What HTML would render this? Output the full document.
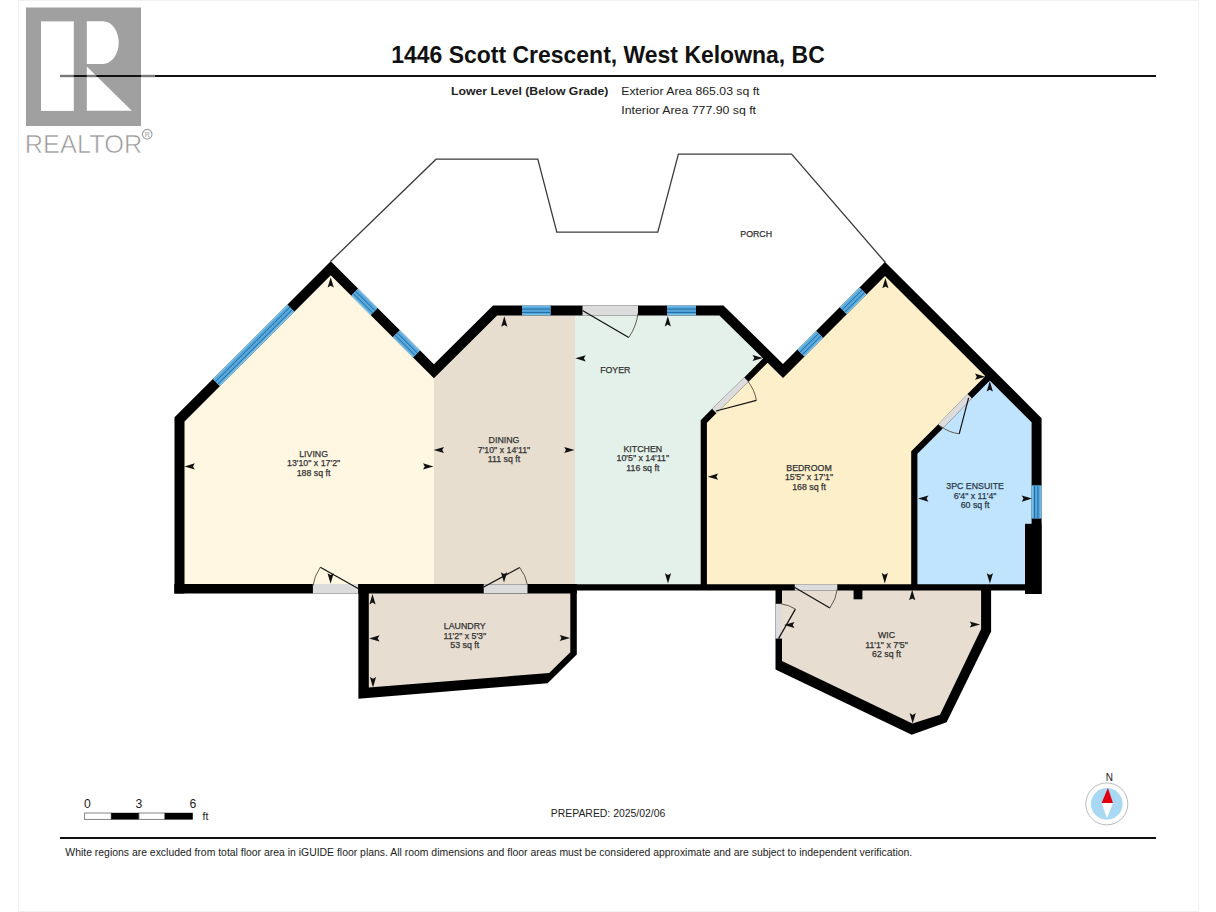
<!DOCTYPE html>
<html><head><meta charset="utf-8">
<style>
html,body{margin:0;padding:0;background:#fff;}
body{width:1216px;height:912px;overflow:hidden;position:relative;font-family:"Liberation Sans",sans-serif;}
svg text{font-family:"Liberation Sans",sans-serif;}
</style></head><body>
<svg width="1216" height="912" viewBox="0 0 1216 912" style="position:absolute;left:0;top:0">
<!-- page frame -->
<rect x="18.5" y="0.5" width="1180" height="911" fill="none" stroke="#f2f2f2" stroke-width="1.2"/>
<!-- realtor logo -->
<rect x="26" y="7.5" width="115" height="118.5" fill="#a0a0a0"/>
<rect x="41" y="21.4" width="32.8" height="89.5" fill="#fff"/>
<path d="M86.8,21.2 H102.9 A15.8,21.4 0 0 1 102.9,64 H86.8 Z" fill="#fff"/>
<path d="M86.8,66.6 L131.8,110.8 L86.8,110.8 Z" fill="#fff"/>
<text x="24.8" y="152.6" font-size="26.5" fill="#999" stroke="#fff" stroke-width="0.6" textLength="117.5" lengthAdjust="spacingAndGlyphs">REALTOR</text>
<circle cx="147.2" cy="134.2" r="4.8" fill="none" stroke="#9c9c9c" stroke-width="1.1"/>
<text x="147.2" y="136.8" font-size="7" text-anchor="middle" fill="#9c9c9c">R</text>
<!-- header -->
<text x="608" y="63.2" font-size="23" font-weight="bold" text-anchor="middle" fill="#111" textLength="433.5" lengthAdjust="spacingAndGlyphs">1446 Scott Crescent, West Kelowna, BC</text>
<line x1="60" y1="76" x2="1156" y2="76" stroke="#111" stroke-width="2.2"/>
<g stroke="#7a7a7a" stroke-width="2.4"><line x1="60" y1="76" x2="73.8" y2="76"/><line x1="86.8" y1="76" x2="96.4" y2="76"/><line x1="141" y1="76" x2="155" y2="76"/></g>
<text x="451" y="94.8" font-size="11.6" font-weight="bold" fill="#222" textLength="157.4" lengthAdjust="spacingAndGlyphs">Lower Level (Below Grade)</text>
<text x="621.3" y="94.8" font-size="11.6" fill="#222" textLength="138.2" lengthAdjust="spacingAndGlyphs">Exterior Area 865.03 sq ft</text>
<text x="621.3" y="113.6" font-size="11.6" fill="#222" textLength="134.7" lengthAdjust="spacingAndGlyphs">Interior Area 777.90 sq ft</text>
<polygon points="179.50,588.80 179.50,419.40 330.75,268.25 433.90,371.30 433.90,588.80" fill="#FFF7E2"/>
<polygon points="433.90,588.80 433.90,371.30 495.10,310.40 575.00,310.40 575.00,588.80" fill="#E7DED0"/>
<polygon points="575.00,588.00 575.00,310.40 721.40,310.40 768.90,357.00 746.40,379.60 714.20,411.00 703.80,421.50 703.80,587.40" fill="#E4F1EA"/>
<polygon points="703.80,587.40 703.80,421.50 714.20,411.00 746.40,379.60 768.90,357.00 783.00,371.00 885.00,269.00 991.20,374.75 969.70,396.20 940.50,426.40 914.30,452.60 914.30,587.40" fill="#FEEFCB"/>
<polygon points="914.30,587.40 914.30,452.60 940.50,426.40 969.70,396.20 991.20,374.75 1036.60,420.20 1036.60,587.40" fill="#C0E4FD"/>
<polygon points="358.40,588.00 358.40,698.70 547.60,683.30 576.80,654.60 576.80,588.00" fill="#000"/>
<polygon points="368.80,593.00 368.80,687.60 549.20,673.00 570.30,652.30 570.30,593.00" fill="#E7DDD0"/>
<polygon points="775.50,587.40 775.50,669.60 911.70,734.70 946.60,722.20 991.10,631.40 991.10,587.40" fill="#000"/>
<polygon points="782.00,590.00 782.00,661.00 912.40,723.60 940.00,714.70 981.10,629.10 981.10,590.00" fill="#E7DDD0"/>
<polyline points="330.50,261.50 436.05,159.20 537.80,159.20 556.80,232.10 657.80,232.10 678.40,154.10 791.60,154.10 885.40,262.50" fill="none" stroke="#3a3a3a" stroke-width="1.3"/>
<polyline points="179.50,593.60 179.50,588.80 179.50,419.40 330.75,268.25 433.90,371.30 495.10,310.40 721.40,310.40 783.00,371.00 885.00,269.00 1036.60,420.20 1036.60,594.00" fill="none" stroke="#000" stroke-width="10" stroke-linejoin="miter" stroke-miterlimit="10"/>
<line x1="174.3" y1="588.8" x2="576.8" y2="588.8" stroke="#000" stroke-width="9.6"/>
<line x1="570" y1="587.4" x2="1041" y2="587.4" stroke="#000" stroke-width="6.2"/>
<rect x="1025" y="523.8" width="16.5" height="70.2" fill="#000"/>
<polyline points="768.90,357.00 746.40,379.60 714.20,411.00 703.80,421.50 703.80,590.00" fill="none" stroke="#000" stroke-width="6.2" stroke-linejoin="miter"/>
<polyline points="991.20,374.75 969.70,396.20 940.50,426.40 914.30,452.60 914.30,590.00" fill="none" stroke="#000" stroke-width="6.2" stroke-linejoin="miter"/>
<rect x="853.6" y="588" width="8.8" height="11.3" fill="#000"/>
<line x1="216.40" y1="382.60" x2="290.80" y2="308.10" stroke="#8fd0f0" stroke-width="10"/>
<line x1="216.40" y1="382.60" x2="290.80" y2="308.10" stroke="#58a8dc" stroke-width="8"/>
<line x1="215.48" y1="381.68" x2="289.88" y2="307.18" stroke="#1d6aa3" stroke-width="1.0"/>
<line x1="217.82" y1="384.01" x2="292.22" y2="309.51" stroke="#1d6aa3" stroke-width="1.0"/>
<line x1="354.60" y1="292.10" x2="374.10" y2="311.60" stroke="#8fd0f0" stroke-width="10"/>
<line x1="354.60" y1="292.10" x2="374.10" y2="311.60" stroke="#58a8dc" stroke-width="8"/>
<line x1="355.52" y1="291.18" x2="375.02" y2="310.68" stroke="#1d6aa3" stroke-width="1.0"/>
<line x1="353.19" y1="293.51" x2="372.69" y2="313.01" stroke="#1d6aa3" stroke-width="1.0"/>
<line x1="396.30" y1="333.80" x2="416.50" y2="354.00" stroke="#8fd0f0" stroke-width="10"/>
<line x1="396.30" y1="333.80" x2="416.50" y2="354.00" stroke="#58a8dc" stroke-width="8"/>
<line x1="397.22" y1="332.88" x2="417.42" y2="353.08" stroke="#1d6aa3" stroke-width="1.0"/>
<line x1="394.89" y1="335.21" x2="415.09" y2="355.41" stroke="#1d6aa3" stroke-width="1.0"/>
<line x1="522.00" y1="310.40" x2="550.50" y2="310.40" stroke="#8fd0f0" stroke-width="10"/>
<line x1="522.00" y1="310.40" x2="550.50" y2="310.40" stroke="#58a8dc" stroke-width="8"/>
<line x1="522.00" y1="309.10" x2="550.50" y2="309.10" stroke="#1d6aa3" stroke-width="1.0"/>
<line x1="522.00" y1="312.40" x2="550.50" y2="312.40" stroke="#1d6aa3" stroke-width="1.0"/>
<line x1="667.00" y1="310.40" x2="696.00" y2="310.40" stroke="#8fd0f0" stroke-width="10"/>
<line x1="667.00" y1="310.40" x2="696.00" y2="310.40" stroke="#58a8dc" stroke-width="8"/>
<line x1="667.00" y1="309.10" x2="696.00" y2="309.10" stroke="#1d6aa3" stroke-width="1.0"/>
<line x1="667.00" y1="312.40" x2="696.00" y2="312.40" stroke="#1d6aa3" stroke-width="1.0"/>
<line x1="800.90" y1="353.10" x2="819.60" y2="334.40" stroke="#8fd0f0" stroke-width="10"/>
<line x1="800.90" y1="353.10" x2="819.60" y2="334.40" stroke="#58a8dc" stroke-width="8"/>
<line x1="799.98" y1="352.18" x2="818.68" y2="333.48" stroke="#1d6aa3" stroke-width="1.0"/>
<line x1="802.31" y1="354.51" x2="821.01" y2="335.81" stroke="#1d6aa3" stroke-width="1.0"/>
<line x1="843.30" y1="310.70" x2="863.00" y2="291.00" stroke="#8fd0f0" stroke-width="10"/>
<line x1="843.30" y1="310.70" x2="863.00" y2="291.00" stroke="#58a8dc" stroke-width="8"/>
<line x1="842.38" y1="309.78" x2="862.08" y2="290.08" stroke="#1d6aa3" stroke-width="1.0"/>
<line x1="844.71" y1="312.11" x2="864.41" y2="292.41" stroke="#1d6aa3" stroke-width="1.0"/>
<line x1="1036.60" y1="485.50" x2="1036.60" y2="518.40" stroke="#8fd0f0" stroke-width="10"/>
<line x1="1036.60" y1="485.50" x2="1036.60" y2="518.40" stroke="#58a8dc" stroke-width="8"/>
<line x1="1037.90" y1="485.50" x2="1037.90" y2="518.40" stroke="#1d6aa3" stroke-width="1.0"/>
<line x1="1034.60" y1="485.50" x2="1034.60" y2="518.40" stroke="#1d6aa3" stroke-width="1.0"/>
<line x1="312.90" y1="588.80" x2="358.10" y2="588.80" stroke="#DCDCDD" stroke-width="9.6"/>
<line x1="483.75" y1="588.80" x2="527.50" y2="588.80" stroke="#DCDCDD" stroke-width="9.0"/>
<line x1="582.50" y1="310.40" x2="638.00" y2="310.40" stroke="#DCDCDD" stroke-width="10"/>
<line x1="746.40" y1="379.60" x2="714.20" y2="411.00" stroke="#DCDCDD" stroke-width="6.2"/>
<line x1="969.70" y1="396.20" x2="940.50" y2="426.40" stroke="#DCDCDD" stroke-width="6.2"/>
<line x1="794.80" y1="587.40" x2="837.30" y2="587.40" stroke="#DCDCDD" stroke-width="6.2"/>
<line x1="778.75" y1="603.80" x2="778.75" y2="638.60" stroke="#DCDCDD" stroke-width="6.5"/>
<line x1="358.10" y1="588.60" x2="320.30" y2="567.20" stroke="#111" stroke-width="1.2"/>
<path d="M320.30,567.20 A43.44,43.44 0 0 0 312.90,586.00" fill="none" stroke="#554a3a" stroke-width="0.9"/>
<line x1="483.75" y1="587.00" x2="519.70" y2="567.50" stroke="#111" stroke-width="1.2"/>
<path d="M519.70,567.50 A40.90,40.90 0 0 1 527.50,585.00" fill="none" stroke="#554a3a" stroke-width="0.9"/>
<line x1="582.50" y1="310.60" x2="628.75" y2="337.50" stroke="#111" stroke-width="1.2"/>
<path d="M628.75,337.50 A53.50,53.50 0 0 0 638.00,313.00" fill="none" stroke="#554a3a" stroke-width="0.9"/>
<line x1="716.00" y1="411.00" x2="756.40" y2="400.30" stroke="#111" stroke-width="1.2"/>
<path d="M756.40,400.30 A41.79,41.79 0 0 0 748.00,381.50" fill="none" stroke="#554a3a" stroke-width="0.9"/>
<line x1="968.60" y1="397.80" x2="959.20" y2="433.80" stroke="#111" stroke-width="1.2"/>
<path d="M959.20,433.80 A37.21,37.21 0 0 1 941.00,426.40" fill="none" stroke="#554a3a" stroke-width="0.9"/>
<line x1="794.80" y1="587.60" x2="829.90" y2="607.90" stroke="#111" stroke-width="1.2"/>
<path d="M829.90,607.90 A40.55,40.55 0 0 0 837.30,589.00" fill="none" stroke="#554a3a" stroke-width="0.9"/>
<line x1="778.50" y1="638.60" x2="795.40" y2="609.10" stroke="#111" stroke-width="1.2"/>
<path d="M795.40,609.10 A34.00,34.00 0 0 0 781.00,603.80" fill="none" stroke="#554a3a" stroke-width="0.9"/>
<path d="M0,0 L3.1,10.4 L0,8.6 L-3.1,10.4 Z" transform="translate(330.70,277.20) rotate(0)" fill="#111"/>
<path d="M0,0 L3.1,10.4 L0,8.6 L-3.1,10.4 Z" transform="translate(184.40,466.40) rotate(270)" fill="#111"/>
<path d="M0,0 L3.1,10.4 L0,8.6 L-3.1,10.4 Z" transform="translate(433.40,466.40) rotate(90)" fill="#111"/>
<path d="M0,0 L3.1,10.4 L0,8.6 L-3.1,10.4 Z" transform="translate(330.60,583.70) rotate(180)" fill="#111"/>
<path d="M0,0 L3.1,10.4 L0,8.6 L-3.1,10.4 Z" transform="translate(433.60,450.00) rotate(270)" fill="#111"/>
<path d="M0,0 L3.1,10.4 L0,8.6 L-3.1,10.4 Z" transform="translate(574.60,450.00) rotate(90)" fill="#111"/>
<path d="M0,0 L3.1,10.4 L0,8.6 L-3.1,10.4 Z" transform="translate(504.30,316.30) rotate(0)" fill="#111"/>
<path d="M0,0 L3.1,10.4 L0,8.6 L-3.1,10.4 Z" transform="translate(504.00,582.60) rotate(180)" fill="#111"/>
<path d="M0,0 L3.1,10.4 L0,8.6 L-3.1,10.4 Z" transform="translate(575.30,358.30) rotate(270)" fill="#111"/>
<path d="M0,0 L3.1,10.4 L0,8.6 L-3.1,10.4 Z" transform="translate(762.90,358.00) rotate(90)" fill="#111"/>
<path d="M0,0 L3.1,10.4 L0,8.6 L-3.1,10.4 Z" transform="translate(667.80,316.00) rotate(0)" fill="#111"/>
<path d="M0,0 L3.1,10.4 L0,8.6 L-3.1,10.4 Z" transform="translate(668.00,583.60) rotate(180)" fill="#111"/>
<path d="M0,0 L3.1,10.4 L0,8.6 L-3.1,10.4 Z" transform="translate(885.40,277.90) rotate(0)" fill="#111"/>
<path d="M0,0 L3.1,10.4 L0,8.6 L-3.1,10.4 Z" transform="translate(707.70,476.70) rotate(270)" fill="#111"/>
<path d="M0,0 L3.1,10.4 L0,8.6 L-3.1,10.4 Z" transform="translate(985.40,376.70) rotate(90)" fill="#111"/>
<path d="M0,0 L3.1,10.4 L0,8.6 L-3.1,10.4 Z" transform="translate(884.80,583.40) rotate(180)" fill="#111"/>
<path d="M0,0 L3.1,10.4 L0,8.6 L-3.1,10.4 Z" transform="translate(989.80,381.10) rotate(0)" fill="#111"/>
<path d="M0,0 L3.1,10.4 L0,8.6 L-3.1,10.4 Z" transform="translate(918.00,498.60) rotate(270)" fill="#111"/>
<path d="M0,0 L3.1,10.4 L0,8.6 L-3.1,10.4 Z" transform="translate(1032.10,498.60) rotate(90)" fill="#111"/>
<path d="M0,0 L3.1,10.4 L0,8.6 L-3.1,10.4 Z" transform="translate(989.90,583.60) rotate(180)" fill="#111"/>
<path d="M0,0 L3.1,10.4 L0,8.6 L-3.1,10.4 Z" transform="translate(372.50,594.00) rotate(0)" fill="#111"/>
<path d="M0,0 L3.1,10.4 L0,8.6 L-3.1,10.4 Z" transform="translate(373.00,687.40) rotate(180)" fill="#111"/>
<path d="M0,0 L3.1,10.4 L0,8.6 L-3.1,10.4 Z" transform="translate(369.10,638.40) rotate(270)" fill="#111"/>
<path d="M0,0 L3.1,10.4 L0,8.6 L-3.1,10.4 Z" transform="translate(570.10,638.00) rotate(90)" fill="#111"/>
<path d="M0,0 L3.1,10.4 L0,8.6 L-3.1,10.4 Z" transform="translate(912.20,589.80) rotate(0)" fill="#111"/>
<path d="M0,0 L3.1,10.4 L0,8.6 L-3.1,10.4 Z" transform="translate(912.70,723.50) rotate(180)" fill="#111"/>
<path d="M0,0 L3.1,10.4 L0,8.6 L-3.1,10.4 Z" transform="translate(980.10,624.50) rotate(90)" fill="#111"/>
<path d="M0,0 L3.1,10.4 L0,8.6 L-3.1,10.4 Z" transform="translate(784.10,625.00) rotate(270)" fill="#111"/>
<text x="313.60" y="456.70" text-anchor="middle" font-size="8.8" fill="#333" stroke="#333" stroke-width="0.25">LIVING</text>
<text x="313.60" y="466.30" text-anchor="middle" font-size="8.8" fill="#333" stroke="#333" stroke-width="0.25">13'10" x 17'2"</text>
<text x="313.60" y="475.90" text-anchor="middle" font-size="8.8" fill="#333" stroke="#333" stroke-width="0.25">188 sq ft</text>
<text x="504.00" y="443.10" text-anchor="middle" font-size="8.8" fill="#333" stroke="#333" stroke-width="0.25">DINING</text>
<text x="504.00" y="452.70" text-anchor="middle" font-size="8.8" fill="#333" stroke="#333" stroke-width="0.25">7'10" x 14'11"</text>
<text x="504.00" y="462.30" text-anchor="middle" font-size="8.8" fill="#333" stroke="#333" stroke-width="0.25">111 sq ft</text>
<text x="642.80" y="451.70" text-anchor="middle" font-size="8.8" fill="#333" stroke="#333" stroke-width="0.25">KITCHEN</text>
<text x="642.80" y="461.30" text-anchor="middle" font-size="8.8" fill="#333" stroke="#333" stroke-width="0.25">10'5" x 14'11"</text>
<text x="642.80" y="470.90" text-anchor="middle" font-size="8.8" fill="#333" stroke="#333" stroke-width="0.25">116 sq ft</text>
<text x="809.00" y="470.50" text-anchor="middle" font-size="8.8" fill="#333" stroke="#333" stroke-width="0.25">BEDROOM</text>
<text x="809.00" y="480.10" text-anchor="middle" font-size="8.8" fill="#333" stroke="#333" stroke-width="0.25">15'5" x 17'1"</text>
<text x="809.00" y="489.70" text-anchor="middle" font-size="8.8" fill="#333" stroke="#333" stroke-width="0.25">168 sq ft</text>
<text x="975.10" y="489.10" text-anchor="middle" font-size="8.8" fill="#2a3a4a" stroke="#2a3a4a" stroke-width="0.25">3PC ENSUITE</text>
<text x="975.10" y="498.70" text-anchor="middle" font-size="8.8" fill="#2a3a4a" stroke="#2a3a4a" stroke-width="0.25">6'4" x 11'4"</text>
<text x="975.10" y="508.30" text-anchor="middle" font-size="8.8" fill="#2a3a4a" stroke="#2a3a4a" stroke-width="0.25">60 sq ft</text>
<text x="464.80" y="629.10" text-anchor="middle" font-size="8.8" fill="#333" stroke="#333" stroke-width="0.25">LAUNDRY</text>
<text x="464.80" y="638.70" text-anchor="middle" font-size="8.8" fill="#333" stroke="#333" stroke-width="0.25">11'2" x 5'3"</text>
<text x="464.80" y="648.30" text-anchor="middle" font-size="8.8" fill="#333" stroke="#333" stroke-width="0.25">53 sq ft</text>
<text x="886.50" y="638.10" text-anchor="middle" font-size="8.8" fill="#333" stroke="#333" stroke-width="0.25">WIC</text>
<text x="886.50" y="647.70" text-anchor="middle" font-size="8.8" fill="#333" stroke="#333" stroke-width="0.25">11'1" x 7'5"</text>
<text x="886.50" y="657.30" text-anchor="middle" font-size="8.8" fill="#333" stroke="#333" stroke-width="0.25">62 sq ft</text>
<text x="615.30" y="372.80" text-anchor="middle" font-size="8.8" fill="#333" stroke="#333" stroke-width="0.25">FOYER</text>
<text x="756.20" y="236.70" text-anchor="middle" font-size="8.8" fill="#333" stroke="#333" stroke-width="0.25">PORCH</text>
<!-- scale bar -->
<rect x="84.6" y="813" width="26.6" height="6.4" fill="#fff" stroke="#777" stroke-width="0.9"/>
<rect x="111.2" y="812.8" width="27.8" height="6.8" fill="#000"/>
<rect x="139" y="813" width="25.8" height="6.4" fill="#fff" stroke="#777" stroke-width="0.9"/>
<rect x="164.8" y="812.8" width="28" height="6.8" fill="#000"/>
<text x="87.3" y="807.5" font-size="12.2" text-anchor="middle" fill="#222">0</text>
<text x="139" y="807.5" font-size="12.2" text-anchor="middle" fill="#222">3</text>
<text x="192.9" y="807.5" font-size="12.2" text-anchor="middle" fill="#222">6</text>
<text x="202.5" y="820.2" font-size="10.5" fill="#222">ft</text>
<text x="550.8" y="817.2" font-size="10.5" fill="#222" textLength="114.5" lengthAdjust="spacingAndGlyphs">PREPARED: 2025/02/06</text>
<!-- compass -->
<text x="1109.3" y="780.6" font-size="10" text-anchor="middle" fill="#222">N</text>
<circle cx="1106.8" cy="803.9" r="21" fill="#fff" stroke="#bbb" stroke-width="1"/>
<circle cx="1106.8" cy="803.9" r="15.8" fill="#a8d8f4"/>
<path d="M1107.9,788 L1101.6,803 L1113,803 Z" fill="#e00010"/>
<path d="M1101.6,803 L1113,803 L1107,818.3 Z" fill="#fff"/>
<line x1="60" y1="838" x2="1156" y2="838" stroke="#111" stroke-width="2.2"/>
<text x="65.3" y="855.9" font-size="10.4" fill="#222" textLength="846.9" lengthAdjust="spacingAndGlyphs">White regions are excluded from total floor area in iGUIDE floor plans. All room dimensions and floor areas must be considered approximate and are subject to independent verification.</text>
</svg>
</body></html>
